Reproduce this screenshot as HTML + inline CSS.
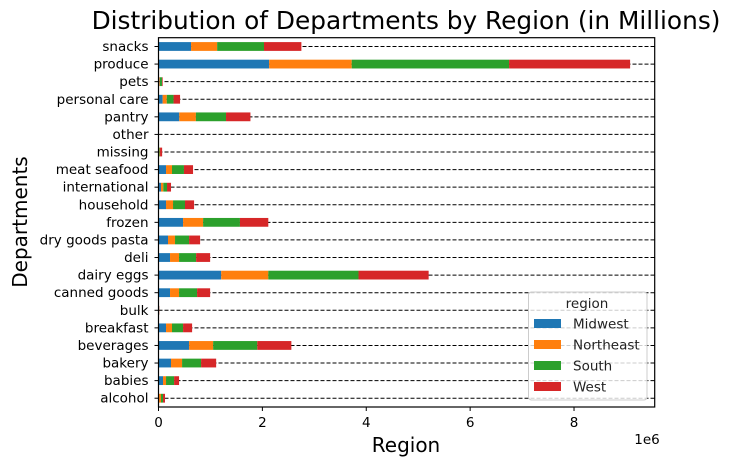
<!DOCTYPE html>
<html><head><meta charset="utf-8"><style>
body{margin:0;background:#fff;}
svg{display:block;font-family:"DejaVu Sans","Liberation Sans",sans-serif;}
</style></head><body>
<svg id="chart" width="733" height="466" viewBox="0 0 733 466">
<text x="406" y="29" font-size="24.8" text-anchor="middle" fill="#000">Distribution of Departments by Region (in Millions)</text>
<g id="grid"></g>
<g id="bars"></g>
<g id="axes"></g>
<text x="406" y="452" font-size="20" text-anchor="middle">Region</text>
<text transform="translate(27,222) rotate(-90)" font-size="20" text-anchor="middle">Departments</text>
<text x="647" y="444" font-size="13.5" text-anchor="middle">1e6</text>
<g id="legend"></g>
</svg>
<script>
const categories=["alcohol","babies","bakery","beverages","breakfast","bulk","canned goods","dairy eggs","deli","dry goods pasta","frozen","household","international","meat seafood","missing","other","pantry","personal care","pets","produce","snacks"];
const seriesNames=["Midwest","Northeast","South","West"];
const midwest=[0.01,0.087,0.241,0.589,0.145,0.004,0.222,1.207,0.222,0.183,0.473,0.145,0.048,0.145,0.012,0.002,0.40,0.08,0.015,2.13,0.627];
const northeast=[0.038,0.058,0.213,0.463,0.115,0.003,0.174,0.907,0.174,0.135,0.386,0.135,0.045,0.115,0.008,0.002,0.32,0.08,0.012,1.59,0.502];
const south=[0.039,0.155,0.366,0.85,0.213,0.005,0.347,1.737,0.328,0.271,0.709,0.23,0.071,0.23,0.01,0.003,0.58,0.13,0.04,3.03,0.902];
const west=[0.038,0.096,0.29,0.656,0.174,0.004,0.251,1.35,0.27,0.212,0.546,0.175,0.077,0.175,0.04,0.002,0.47,0.125,0.013,2.33,0.72];
const xTicks=[0,2,4,6,8];
const colors=["#1f77b4","#ff7f0e","#2ca02c","#d62728"];
const NS="http://www.w3.org/2000/svg";
const L=158.5,R=654.7,T=37.7,B=407;
const xs=v=>L+v*51.94;
const step=(B-T)/categories.length;
const ys=i=>B-step*(i+0.5);
function mk(t,a,p){const e=document.createElementNS(NS,t);for(const k in a)e.setAttribute(k,a[k]);p.appendChild(e);return e;}
const grid=document.getElementById('grid'),bars=document.getElementById('bars'),axes=document.getElementById('axes'),leg=document.getElementById('legend');
const series=[midwest,northeast,south,west];
categories.forEach((c,i)=>{
  const y=ys(i);
  const g=mk('line',{x1:L,x2:R,y1:y,y2:y,stroke:'#000','stroke-width':1,'stroke-dasharray':'4,2'},grid);
  
  
  let cum=0;
  series.forEach((s,k)=>{
    const r=mk('rect',{x:xs(cum),y:y-step/4,width:xs(cum+s[i])-xs(cum),height:step/2,fill:colors[k]},bars);
    
    
    cum+=s[i];
  });
  mk('line',{x1:L-4,x2:L,y1:y,y2:y,stroke:'#000'},axes);
  const t=mk('text',{x:L-10,y:y+4.5,'font-size':13.5,'text-anchor':'end'},axes);
  t.textContent=c;
  
  
});
xTicks.forEach(v=>{
  const x=xs(v);
  mk('line',{x1:x,x2:x,y1:B,y2:B+4,stroke:'#000'},axes);
  const t=mk('text',{x:x,y:B+20,'font-size':13.5,'text-anchor':'middle'},axes);
  t.textContent=v;
  
  
});
mk('rect',{x:L,y:T,width:R-L,height:B-T,fill:'none',stroke:'#000','stroke-width':1.2},axes);
mk('rect',{x:528.5,y:292,width:118.5,height:108,rx:3,fill:'#fff','fill-opacity':0.8,stroke:'#ccc'},leg);
const lt=mk('text',{x:587,y:308,'font-size':13.5,'text-anchor':'middle',fill:'#222'},leg);lt.textContent='region';
seriesNames.forEach((n,k)=>{
  const y=323.5+k*21;
  const r=mk('rect',{x:534,y:y-4.5,width:27,height:9,fill:colors[k]},leg);
  
  
  const t=mk('text',{x:573,y:y+5,'font-size':13.5,fill:'#222'},leg);
  t.textContent=n;
  
  
});
</script>
</body></html>
